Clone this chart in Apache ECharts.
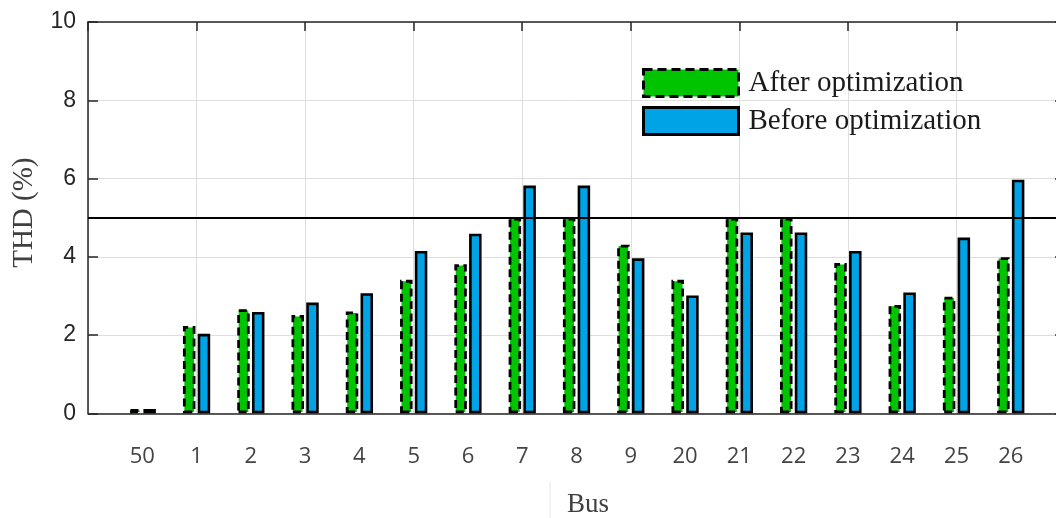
<!DOCTYPE html>
<html>
<head>
<meta charset="utf-8">
<script src="https://cdn.jsdelivr.net/npm/echarts@6/dist/echarts.min.js"></script>
<style>
html,body{margin:0;padding:0;background:#fff;}
#main{width:1056px;height:518px;}
</style>
</head>
<body>
<div id="main"></div>
<script>
// ---- data ----
const categories = ['50','1','2','3','4','5','6','7','8','9','20','21','22','23','24','25','26'];
const afterOpt  = [0.11, 2.23, 2.66, 2.51, 2.60, 3.41, 3.81, 5.00, 5.00, 4.31, 3.41, 5.00, 5.00, 3.84, 2.77, 2.98, 3.99];
const beforeOpt = [0.11, 2.03, 2.59, 2.83, 3.07, 4.15, 4.59, 5.82, 5.82, 3.96, 3.01, 4.62, 4.62, 4.15, 3.09, 4.49, 5.97];
const thdLimit = 5;
const seriesNames = ['After optimization', 'Before optimization'];

// ---- layout ----
const plotLeft = 88, plotTop = 22, plotH = 391.3;
const unit = 54.28;            // px per category
const frameUnits = 18;         // frame spans 18 category widths
const frameW = unit * frameUnits;

const GREEN = '#00C400', BLUE = '#00A3E6';
const AXIS = '#262626', GRID = '#dedede';

const chart = echarts.init(document.getElementById('main'), null, {renderer: 'canvas'});
chart.setOption({
  backgroundColor: '#fff',
  animation: false,
  grid: [
    {left: plotLeft, top: plotTop, width: frameW, height: plotH, outerBoundsMode: 'none', containLabel: false},
    {left: plotLeft + unit * 0.5, top: plotTop, width: unit * categories.length, height: plotH, outerBoundsMode: 'none', containLabel: false}
  ],
  xAxis: [
    {gridIndex: 0, type: 'value', min: 0, max: frameUnits, interval: 2, position: 'bottom',
     axisLine: {show: true, onZero: false, lineStyle: {color: AXIS, width: 1.5}},
     axisTick: {show: false}, axisLabel: {show: false},
     splitLine: {show: true, lineStyle: {color: GRID, width: 1}}},
    {gridIndex: 0, type: 'value', min: 0, max: frameUnits, interval: 2, position: 'top',
     axisLine: {show: true, onZero: false, lineStyle: {color: AXIS, width: 1.5}},
     axisTick: {show: true, inside: true, length: 9, lineStyle: {color: AXIS, width: 1.5}},
     axisLabel: {show: false}, splitLine: {show: false}},
    {gridIndex: 1, type: 'category', data: categories, boundaryGap: true, position: 'bottom',
     axisLine: {show: false}, axisTick: {show: false}, splitLine: {show: false},
     axisLabel: {show: true, margin: 32, fontFamily: 'Open Sans', fontSize: 22, color: '#444'},
     name: 'Bus', nameLocation: 'middle', nameGap: 78,
     nameTextStyle: {fontFamily: 'Liberation Serif', fontSize: 27, color: '#404040', padding: [0, 0, 0, 23]}}
  ],
  yAxis: [
    {gridIndex: 0, type: 'value', min: 0, max: 10, interval: 2, position: 'left',
     axisLine: {show: true, onZero: false, lineStyle: {color: AXIS, width: 1.5}},
     axisTick: {show: true, inside: true, length: 10, lineStyle: {color: AXIS, width: 1.5}},
     axisLabel: {show: true, margin: 12, fontFamily: 'Liberation Sans', fontSize: 23, color: '#262626'},
     splitLine: {show: true, lineStyle: {color: GRID, width: 1}},
     name: 'THD (%)', nameLocation: 'middle', nameRotate: 90, nameGap: 49,
     nameTextStyle: {fontFamily: 'Liberation Serif', fontSize: 29, color: '#404040', padding: [0, 0, 0, 10]}},
    {gridIndex: 0, type: 'value', min: 0, max: 10, interval: 2, position: 'right',
     axisLine: {show: true, onZero: false, lineStyle: {color: AXIS, width: 1.5}},
     axisTick: {show: true, inside: true, length: 10, lineStyle: {color: AXIS, width: 1.5}},
     axisLabel: {show: false}, splitLine: {show: false}},
    {gridIndex: 1, type: 'value', min: 0, max: 10, interval: 2, show: false}
  ],
  legend: {
    orient: 'vertical', left: 642, top: 68, padding: 0, itemGap: 8,
    itemWidth: 95, itemHeight: 27, selectedMode: false,
    textStyle: {fontFamily: 'Liberation Serif', fontSize: 29, color: '#1a1a1a', padding: [0, 0, 0, 5]},
    data: [
      {name: seriesNames[0], icon: 'rect',
       itemStyle: {color: GREEN, borderColor: '#000', borderWidth: 3, borderType: [9, 5]}},
      {name: seriesNames[1], icon: 'rect',
       itemStyle: {color: BLUE, borderColor: '#000', borderWidth: 3, borderType: 'solid'}}
    ]
  },
  series: [
    {name: seriesNames[0], type: 'bar', xAxisIndex: 2, yAxisIndex: 2, data: afterOpt,
     barWidth: 12.5, barGap: '18%',
     itemStyle: {color: GREEN, borderColor: '#000', borderWidth: 2.8, borderType: [8, 4.5]}},
    {name: seriesNames[1], type: 'bar', xAxisIndex: 2, yAxisIndex: 2, data: beforeOpt,
     barWidth: 12.5, barGap: '18%',
     itemStyle: {color: BLUE, borderColor: '#000', borderWidth: 2.6}},
    {name: 'limit', type: 'line', xAxisIndex: 0, yAxisIndex: 0, data: [], z: 10,
     markLine: {symbol: 'none', silent: true, label: {show: false},
       lineStyle: {color: '#000', width: 2.2, type: 'solid'},
       data: [{yAxis: thdLimit}]}}
  ],
  graphic: [
    {type: 'line', shape: {x1: 550, y1: 482, x2: 550, y2: 518}, style: {stroke: '#e6e6e6', lineWidth: 1}}
  ]
});
</script>
</body>
</html>
